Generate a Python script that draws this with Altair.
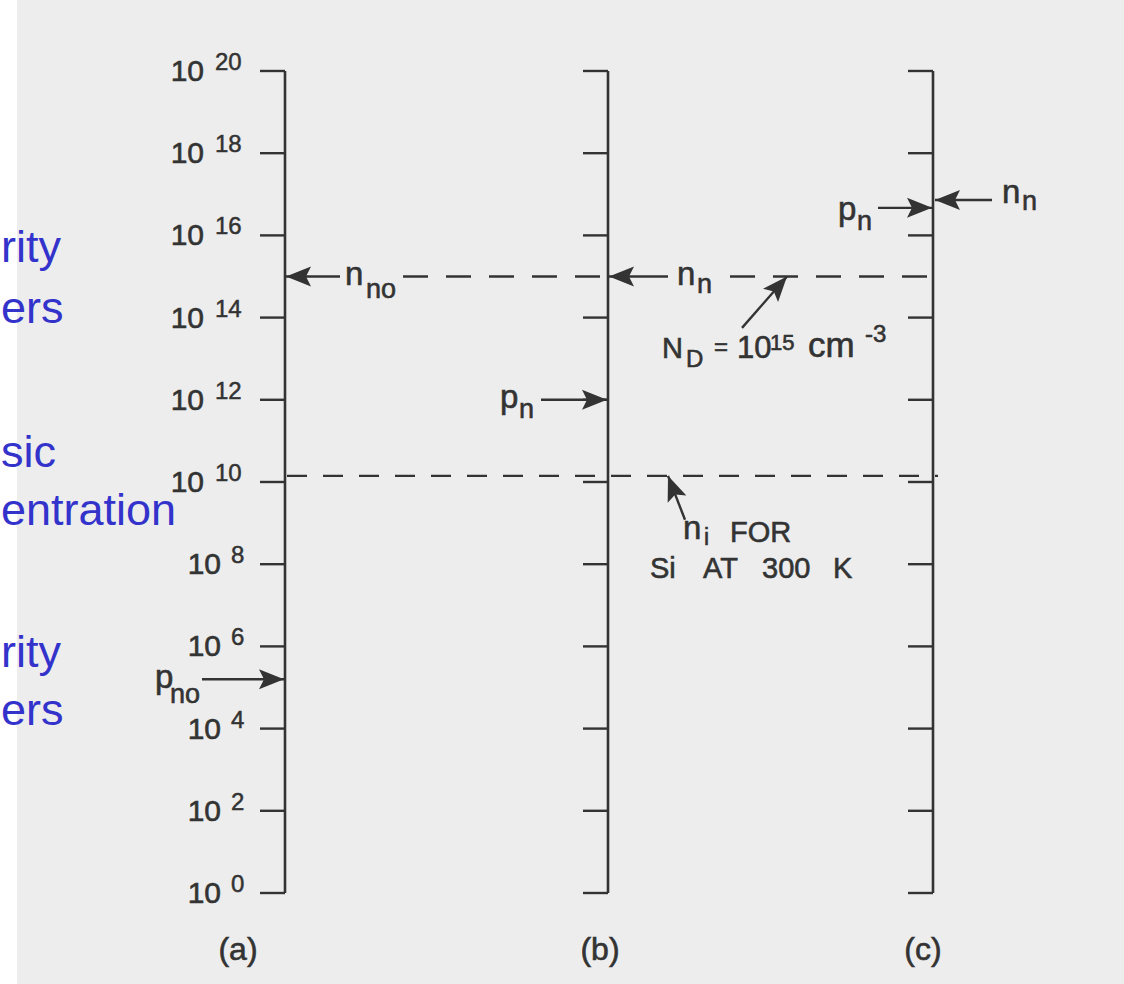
import math
import altair as alt
import pandas as pd

# ---------------- data ----------------
# decade ticks on every concentration scale: 10^0 ... 10^20
tick_exps = list(range(0, 21, 2))

# horizontal position of the three concentration scales and their captions
panel_names = ["(a)", "(b)", "(c)"]
panel_pos = [285, 608, 933]
panel_label_pos = [238, 600, 923]
panel_label_exp = -1.63

# concentrations, log10(cm^-3)
nd_exp = 15.0        # N_D = 1e15 (dashed)
ni_exp = 10.15       # n_i for Si at 300 K (dashed)

# dashed reference lines
dash15_from = [403, 730]
dash15_to = [606, 931]
dash10_from = [287]
dash10_to = [938]

# arrows: tail -> tip  (x position, log10 concentration)
arrow_tail_x = [340, 202, 668, 541, 878, 992, 742, 685]
arrow_tail_e = [15.0, 5.2, 15.0, 12.0, 16.67, 16.86, 13.75, 9.08]
arrow_tip_x = [286, 284, 609, 607, 932, 935, 787, 668]
arrow_tip_e = [15.0, 5.2, 15.0, 12.0, 16.67, 16.86, 15.0, 10.15]

# annotation text pieces (left aligned, alphabetic baseline)
ann_text = ["n", "no", "p", "no", "n", "n", "p", "n",
            "N", "D", "=", "10", "15", "cm", "-3",
            "n", "i", "FOR", "Si", "AT", "300", "K",
            "p", "n", "n", "n"]
ann_x = [345, 366, 155, 170, 677, 697, 500, 519,
         662, 686, 714, 737, 770, 808, 865,
         683, 704, 730, 650, 703, 762, 833,
         838, 857, 1002, 1022]
ann_e = [14.79, 14.48, 4.99, 4.62, 14.79, 14.60, 11.80, 11.56,
         13.02, 12.80, 13.08, 13.02, 13.21, 13.04, 13.41,
         8.62, 8.47, 8.54, 7.66, 7.66, 7.66, 7.66,
         16.37, 16.13, 16.80, 16.62]
ann_size = [33, 27, 33, 27, 33, 27, 33, 27,
            29, 24, 24, 31, 22, 35, 24,
            33, 23, 29, 29, 29, 29, 29,
            33, 27, 33, 27]

# cut-off slide text on the left edge (left aligned at the page edge)
side_text = ["rity", "ers", "sic", "entration", "rity", "ers"]
side_left = [1, 1, 1, 1, 1, 1]
side_e = [15.35, 13.87, 10.36, 8.95, 5.50, 4.09]

# ---------------- styling ----------------
INK = "#333333"
BLUE = "#3333cc"
FONT = "Liberation Sans"
W, H = 1107, 984
PX_PER_DEC = 41.1
TICK_LEN = 25
ARROW = "M0,0 L0.4,1 L0,0.8 L-0.4,1 Z"

xs = alt.Scale(domain=[17, 1124], range=[0, W], zero=False, nice=False)
ys = alt.Scale(domain=[-2.214, 21.727], zero=False, nice=False)


def X(f):
    return alt.X(f"{f}:Q", scale=xs, axis=None)


def Y(f):
    return alt.Y(f"{f}:Q", scale=ys, axis=None)


# scale lines
axes_df = pd.DataFrame({"x": panel_pos, "e0": [tick_exps[0]] * 3, "e1": [tick_exps[-1]] * 3})
axes_layer = alt.Chart(axes_df).mark_rule(color=INK, strokeWidth=2.6).encode(
    x=X("x"), y=Y("e0"), y2="e1")

tick_rows = [{"x0": p - TICK_LEN, "x1": p, "e": e} for p in panel_pos for e in tick_exps]
ticks_layer = alt.Chart(pd.DataFrame(tick_rows)).mark_rule(color=INK, strokeWidth=2.4).encode(
    x=X("x0"), x2="x1", y=Y("e"))

# dashed lines
d15 = pd.DataFrame({"x0": dash15_from, "x1": dash15_to, "e": [nd_exp] * len(dash15_from)})
d10 = pd.DataFrame({"x0": dash10_from, "x1": dash10_to, "e": [ni_exp] * len(dash10_from)})
dash15_layer = alt.Chart(d15).mark_rule(color=INK, strokeWidth=2.3, strokeDash=[25, 18]).encode(
    x=X("x0"), x2="x1", y=Y("e"))
dash10_layer = alt.Chart(d10).mark_rule(color=INK, strokeWidth=2.3, strokeDash=[20, 16]).encode(
    x=X("x0"), x2="x1", y=Y("e"))

# arrows
angles = []
for tx, te, hx, he in zip(arrow_tail_x, arrow_tail_e, arrow_tip_x, arrow_tip_e):
    dx = hx - tx
    dy = -(he - te) * PX_PER_DEC
    angles.append(math.degrees(math.atan2(dx, -dy)) % 360)
arr_df = pd.DataFrame({"tx": arrow_tail_x, "te": arrow_tail_e,
                       "hx": arrow_tip_x, "he": arrow_tip_e, "angle": angles})
shaft_layer = alt.Chart(arr_df).mark_rule(color=INK, strokeWidth=2.4).encode(
    x=X("tx"), x2="hx", y=Y("te"), y2="he")
head_layer = alt.Chart(arr_df).mark_point(
    shape=ARROW, filled=True, size=2500, color=INK, opacity=1, strokeWidth=0).encode(
    x=X("hx"), y=Y("he"), angle=alt.Angle("angle:Q", scale=None))

# tick labels 10^n
lab_df = pd.DataFrame({
    "e": tick_exps,
    "ten_x": [204 if e >= 10 else 221 for e in tick_exps],
    "sup_x": [215 if e >= 10 else 231 for e in tick_exps],
    "ten": ["10"] * len(tick_exps),
    "sup": [str(e) for e in tick_exps],
})
ten_layer = alt.Chart(lab_df).mark_text(
    align="right", baseline="alphabetic", dy=10, font=FONT, fontSize=30, color=INK,
    stroke=INK, strokeWidth=0.6).encode(
    x=X("ten_x"), y=Y("e"), text="ten:N")
sup_layer = alt.Chart(lab_df).mark_text(
    align="left", baseline="alphabetic", dy=-1, font=FONT, fontSize=24, color=INK,
    stroke=INK, strokeWidth=0.5).encode(
    x=X("sup_x"), y=Y("e"), text="sup:N")

# annotations
ann_df = pd.DataFrame({"x": ann_x, "e": ann_e, "t": ann_text, "s": ann_size})
ann_layer = alt.Chart(ann_df).mark_text(
    align="left", baseline="alphabetic", font=FONT, color=INK,
    stroke=INK, strokeWidth=0.6).encode(
    x=X("x"), y=Y("e"), text="t:N", size=alt.Size("s:Q", scale=None))

# panel captions
cap_df = pd.DataFrame({"x": panel_label_pos, "e": [panel_label_exp] * 3, "t": panel_names})
cap_layer = alt.Chart(cap_df).mark_text(
    align="center", baseline="alphabetic", font=FONT, fontSize=32, color=INK,
    stroke=INK, strokeWidth=0.6).encode(
    x=X("x"), y=Y("e"), text="t:N")

# blue slide text
side_df = pd.DataFrame({"x": side_left, "e": side_e, "t": side_text})
side_layer = alt.Chart(side_df).mark_text(
    align="left", baseline="alphabetic", font=FONT, fontSize=45, color=BLUE).encode(
    x=X("x"), y=Y("e"), text="t:N")

chart = alt.layer(
    dash15_layer, dash10_layer, axes_layer, ticks_layer, shaft_layer, head_layer,
    ten_layer, sup_layer, ann_layer, cap_layer, side_layer,
).properties(
    width=W, height=H, autosize="none",
    padding={"left": 17, "top": 0, "right": 0, "bottom": 0},
    background="#ffffff",
).configure_view(stroke=None, fill="#ededed")

chart.save("out.html", embed_options={"renderer": "svg", "actions": False})
